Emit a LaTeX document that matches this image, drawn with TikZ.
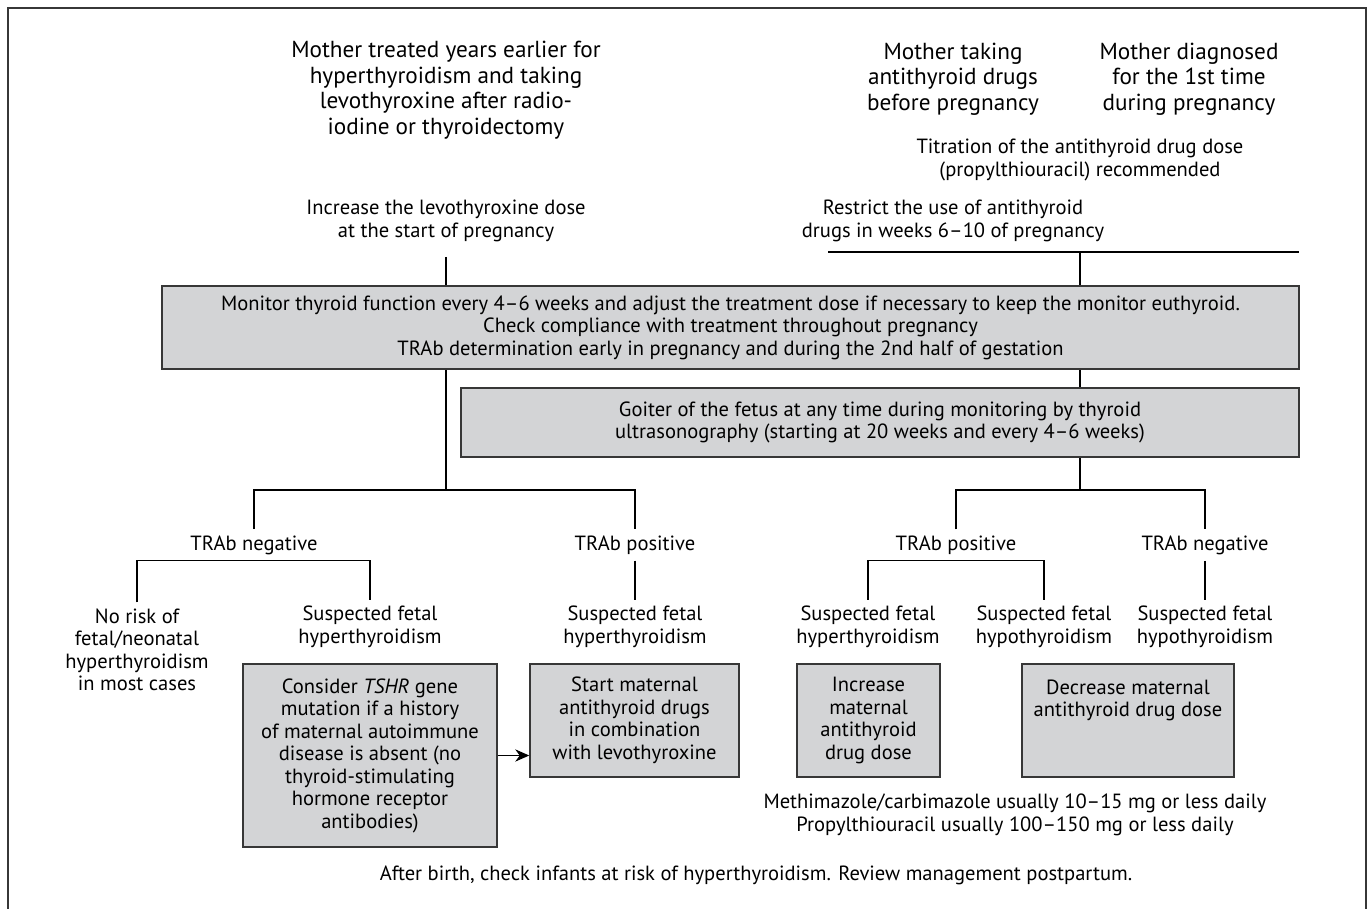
\documentclass[tikz,border=0pt]{standalone}
\usepackage{fontspec}
\setmainfont{PT Sans}
\usetikzlibrary{arrows.meta}
\definecolor{boxgray}{RGB}{211,212,214}
\definecolor{linegray}{RGB}{55,55,55}
\begin{document}
\begin{tikzpicture}[x=0.02cm,y=-0.02cm,line width=0.6pt,
  txt/.style={align=center,font=\fontsize{11.7}{12.8}\selectfont},
  big/.style={align=center,font=\fontsize{13.2}{14.5}\selectfont},
  gbox/.style={txt,draw=linegray,fill=boxgray,line width=0.9pt}]
\useasboundingbox (0,0) rectangle (1370,909);
\draw [linegray,line width=1.1pt] (8,909) -- (8,8) -- (1366,8) -- (1366,909);
% the three starting cases
\node[big] (mothA) at (446,90) {Mother treated years earlier for\\hyperthyroidism and taking\\levothyroxine after radio-\\iodine or thyroidectomy};
\node[big] (mothB) at (953,79) {Mother taking\\antithyroid drugs\\before pregnancy};
\node[big] (mothC) at (1189,79) {Mother diagnosed\\for the 1st time\\during pregnancy};
\node[txt] (titr) at (1080,160) {Titration of the antithyroid drug dose\\(propylthiouracil) recommended};
\node[txt] (incr) at (446,221) {Increase the levothyroxine dose\\at the start of pregnancy};
\node[txt] (restr) at (953,221) {Restrict the use of antithyroid\\drugs in weeks 6--10 of pregnancy};
\coordinate (barL) at (828,252);
\coordinate (barR) at (1299,252);
% monitoring
\node[gbox,minimum width=22.74cm,minimum height=1.66cm] (mon) at (730.5,327.5) {Monitor thyroid function every 4--6 weeks and adjust the treatment dose if necessary to keep the monitor euthyroid.\\Check compliance with treatment throughout pregnancy\\TRAb determination early in pregnancy and during the 2nd half of gestation};
\node[gbox,minimum width=16.76cm,minimum height=1.38cm] (goit) at (880,422.5) {Goiter of the fetus at any time during monitoring by thyroid\\ultrasonography (starting at 20 weeks and every 4--6 weeks)};
\coordinate (splitL) at (446,490);
\coordinate (splitR) at (1080,490);
% TRAb results
\node[txt] (negL) at (254,545) {TRAb negative};
\node[txt] (posL) at (635,545) {TRAb positive};
\node[txt] (posR) at (956,545) {TRAb positive};
\node[txt] (negR) at (1205,545) {TRAb negative};
\node[txt] (norisk) at (137,650) {No risk of\\fetal/neonatal\\hyperthyroidism\\in most cases};
\node[txt] (susA) at (370,627) {Suspected fetal\\hyperthyroidism};
\node[txt] (susB) at (635,627) {Suspected fetal\\hyperthyroidism};
\node[txt] (susC) at (868,627) {Suspected fetal\\hyperthyroidism};
\node[txt] (susD) at (1044,627) {Suspected fetal\\hypothyroidism};
\node[txt] (susE) at (1205,627) {Suspected fetal\\hypothyroidism};
% actions
\node[gbox,minimum width=5.08cm,minimum height=3.66cm] (tshr) at (370,755.5) {Consider \emph{TSHR} gene\\mutation if a history\\of maternal autoimmune\\disease is absent (no\\thyroid-stimulating\\hormone receptor\\antibodies)};
\node[gbox,minimum width=4.18cm,minimum height=2.26cm] (start) at (634.5,720.5) {Start maternal\\antithyroid drugs\\in combination\\with levothyroxine};
\node[gbox,minimum width=2.86cm,minimum height=2.26cm] (incd) at (868.5,720.5) {Increase\\maternal\\antithyroid\\drug dose};
\node[gbox,minimum width=4.24cm,minimum height=2.26cm] (decd) at (1128,720.5) {Decrease maternal\\antithyroid drug dose\\~\\~};
\node[txt] (dose) at (1015,815) {Methimazole/carbimazole usually 10--15 mg or less daily\\Propylthiouracil usually 100--150 mg or less daily};
\node[txt] (after) at (756,875) {After birth, check infants at risk of hyperthyroidism. Review management postpartum.};
% connectors
\draw [shorten <=5pt] (incr.south) -- (incr.south |- mon.north);
\draw (barL) -- (barR);
\draw (titr |- barL) -- (titr |- mon.north);
\draw (incr |- mon.south) -- (splitL);
\draw (negL.north) |- (splitL) -| (posL.north);
\draw (titr |- mon.south) -- (titr |- goit.north);
\draw (titr |- goit.south) -- (splitR);
\draw (posR.north) |- (splitR) -| (negR.north);
\draw (norisk.north) |- (negL.south) -| (susA.north);
\draw (posL.south) -- (susB.north);
\draw (susC.north) |- (posR.south) -| (susD.north);
\draw (negR.south) -- (susE.north);
\draw [-{Stealth[length=8pt,width=7pt]}] (tshr.east) -- (tshr.east -| start.west);
\end{tikzpicture}
\end{document}
